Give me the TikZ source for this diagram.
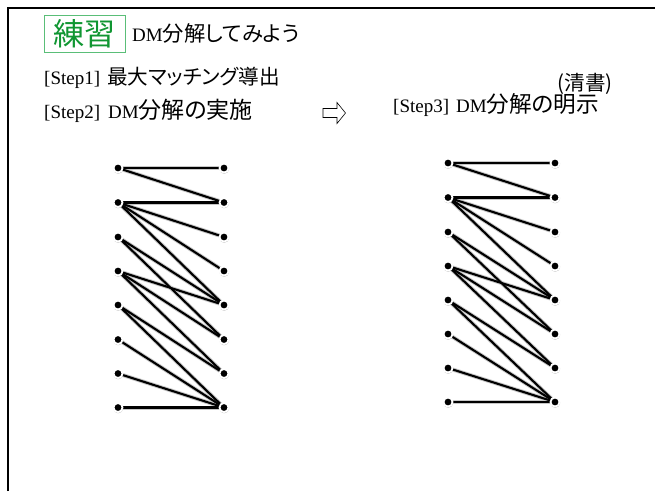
\documentclass[tikz,border=0pt]{standalone}
\usepackage{fontspec}
\setmainfont{Liberation Serif}
\newfontfamily\jp[RawFeature=+palt]{Noto Sans CJK JP}
\newcommand\jpsz[2]{{\jp\fontsize{#1}{#1}\selectfont #2}}
\usetikzlibrary{shadows,backgrounds}
\definecolor{textgreen}{RGB}{16,150,50}
\definecolor{boxgreen}{RGB}{90,190,120}
\begin{document}
\begin{tikzpicture}[x=1pt,y=-1pt,
  dot/.style={circle,fill=black,draw=white,line width=1.8pt,minimum size=9pt,inner sep=0pt,
    circular drop shadow={shadow xshift=0pt,shadow yshift=-0.5pt,opacity=0.45,shadow scale=1.2}},
  edgeline/.style={line width=2.1pt,black},
  edgeshade/.style={line width=4pt,black!22},
  lbl/.style={anchor=west,inner sep=0pt,font=\fontsize{19}{22}\selectfont},
]
\useasboundingbox (0,0) rectangle (655,491);
% frame
\draw[line width=2pt] (8,491) -- (8,7.5) -- (655,7.5);

% titles
\node[draw=boxgreen,line width=0.8pt,minimum width=81pt,minimum height=37pt,inner sep=0pt,
  text=textgreen,font=\jp\fontsize{31}{32}\selectfont] (ren) at (84.5,33.5) {練習};
\node[lbl] (t1) at (132,33) {DM\jpsz{21.3}{分解してみよう}};
\node[lbl] (s1) at (44,78) {[Step1]\hspace{7pt}\jpsz{20.6}{最大マッチング導出}};
\node[lbl] (s2) at (44,110.5) {[Step2]\hspace{8pt}DM\jpsz{23}{分解の実施}};
\node[lbl] (s3) at (393,105) {[Step3]\hspace{7pt}DM\jpsz{22.6}{分解の明示}};
\node[inner sep=0pt,font=\jp\fontsize{20.5}{21}\selectfont] (cl) at (585,83.5) {(清書)};

% arrow
\draw[line width=0.6pt,line join=miter] (323,108.5) -- (337,108.5) -- (337,102.5) -- (345.5,113)
  -- (337,123.5) -- (337,117.5) -- (323,117.5) -- cycle;

% graph nodes
\foreach \i/\ya/\yb in {1/168/163,2/202.5/197.5,3/237/232,4/271/266,5/305/300,6/339.5/334,7/373.5/368,8/407.5/402}{
  \node[dot] (aL\i) at (118,\ya) {};
  \node[dot] (aR\i) at (224,\ya) {};
  \node[dot] (bL\i) at (448,\yb) {};
  \node[dot] (bR\i) at (555,\yb) {};
}
% edges
\begin{scope}[on background layer]
\foreach \g in {a,b}{
  \foreach \p/\q in {1/1,1/2,2/2,2/3,2/4,2/5,3/5,3/6,4/5,4/6,4/7,5/7,5/8,6/8,7/8,8/8}{
    \draw[edgeshade] (\g L\p.center) -- (\g R\q.center);
  }
}
\foreach \g in {a,b}{
  \foreach \p/\q in {1/1,1/2,2/2,2/3,2/4,2/5,3/5,3/6,4/5,4/6,4/7,5/7,5/8,6/8,7/8,8/8}{
    \draw[edgeline] (\g L\p.center) -- (\g R\q.center);
  }
}
\end{scope}
\end{tikzpicture}
\end{document}
